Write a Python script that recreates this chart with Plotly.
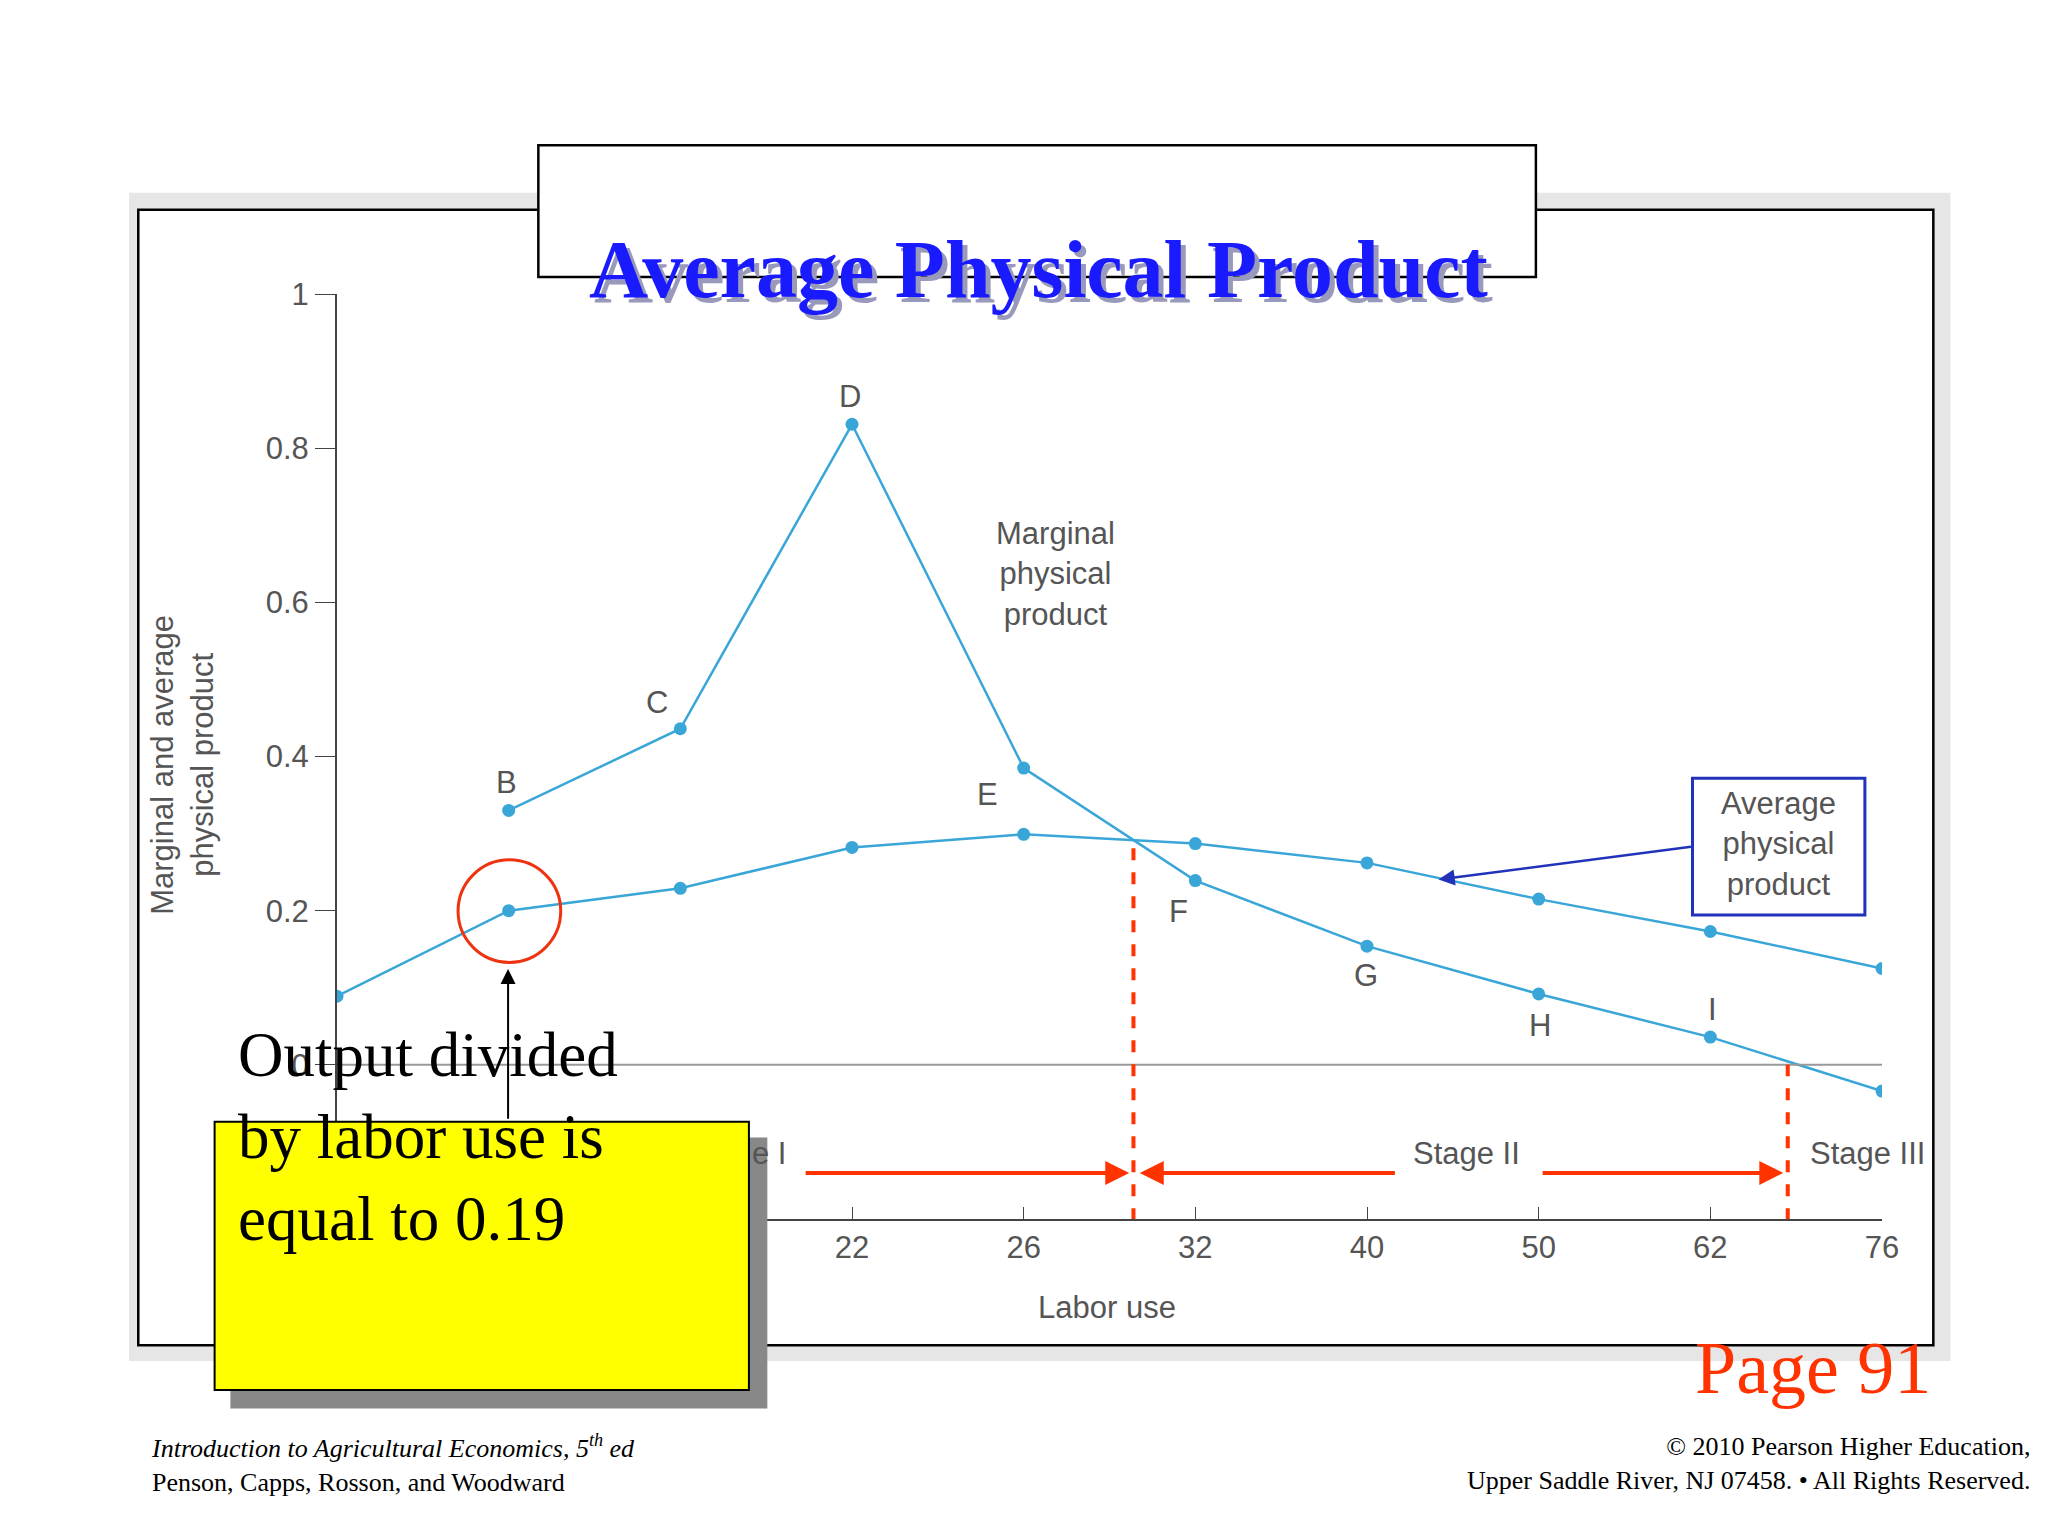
import plotly.graph_objects as go

labor = ["0", "10", "16", "22", "26", "32", "40", "50", "62", "76"]
app = [0.089, 0.20, 0.229, 0.282, 0.299, 0.287, 0.262, 0.215, 0.173, 0.125]
mpp = [None, 0.33, 0.436, 0.831, 0.385, 0.239, 0.154, 0.092, 0.036, -0.034]
point_letters = ["B", "C", "D", "E", "F", "G", "H", "I", "J"]

W, H = 2048, 1536
S = W / 1556.0
L, R, T, B = 250 * S, W - 1424 * S, 217 * S, H - 920 * S
PW, PH = W - L - R, H - T - B

def px(x):
    return (x * S - L) / PW

def py(y):
    return 1 - (y * S - T) / PH

def dx(x):
    return (x - 250) / 130.4

def dy(y):
    return (802 - y) / 585.0

idx = list(range(len(labor)))
blue = "#3aa6d8"
fig = go.Figure()
fig.add_trace(go.Scatter(x=idx, y=app, mode="lines+markers", line=dict(color=blue, width=2.5),
                         marker=dict(size=13, color=blue)))
fig.add_trace(go.Scatter(x=idx[1:], y=mpp[1:], mode="lines+markers", line=dict(color=blue, width=2.5),
                         marker=dict(size=13, color=blue)))

shapes = []
shapes.append(dict(type="rect", xref="paper", yref="paper", x0=px(92), x1=px(1476), y0=py(1028), y1=py(140),
                   fillcolor="#e6e6e6", line=dict(width=0), layer="below"))
shapes.append(dict(type="rect", xref="paper", yref="paper", x0=px(99), x1=px(1463), y0=py(1016), y1=py(153),
                   fillcolor="white", line=dict(color="black", width=2.5), layer="below"))
shapes.append(dict(type="line", x0=0, x1=9, y0=0, y1=0, line=dict(color="#999", width=2)))
shapes.append(dict(type="line", x0=dx(855), x1=dx(855), y0=dy(920), y1=dy(632),
                   line=dict(color="#ff3300", width=4, dash="dash")))
shapes.append(dict(type="line", x0=dx(1352), x1=dx(1352), y0=dy(920), y1=0,
                   line=dict(color="#ff3300", width=4, dash="dash")))
shapes.append(dict(type="circle", xref="paper", yref="paper", x0=px(342), x1=px(420), y0=py(725), y1=py(647),
                   line=dict(color="#ee3311", width=3)))
shapes.append(dict(type="rect", xref="paper", yref="paper", x0=px(403), x1=px(1161), y0=py(204), y1=py(104),
                   fillcolor="white", line=dict(color="black", width=2.5)))
shapes.append(dict(type="rect", xref="paper", yref="paper", x0=px(1280), x1=px(1411), y0=py(689), y1=py(585),
                   fillcolor="white", line=dict(color="#2233bb", width=3)))
shapes.append(dict(type="rect", xref="paper", yref="paper", x0=px(169), x1=px(577), y0=py(1064), y1=py(858),
                   fillcolor="#888", line=dict(width=0)))
shapes.append(dict(type="rect", xref="paper", yref="paper", x0=px(157), x1=px(563), y0=py(1050), y1=py(846),
                   fillcolor="#ffff00", line=dict(color="black", width=2)))

ann = []
def arrow(x0, y0, x1, y1, color, width=4, size=1.2):
    ann.append(dict(xref="x domain", yref="y domain", axref="x domain", ayref="y domain",
                    x=px(x1), y=py(y1), ax=px(x0), ay=py(y0), text="", showarrow=True,
                    arrowhead=2, arrowsize=size, arrowwidth=width, arrowcolor=color))

arrow(605, 885, 852, 885, "#ff3300")
arrow(1055, 885, 860, 885, "#ff3300")
arrow(1165, 885, 1349, 885, "#ff3300")
arrow(380, 845, 380, 730, "black", 2, 1.5)
arrow(1280, 637, 1087, 662, "#2233bb", 2.5, 1.3)

gray = "#555"
letter_pos = [(379, 588), (493, 527), (640, 295), (744, 597), (889, 686), (1032, 734), (1164, 772), (1295, 760), (1432, 848)]
for t, (x, y) in zip(point_letters, letter_pos):
    ann.append(dict(x=dx(x), y=dy(y), text=t, showarrow=False, font=dict(size=31, color=gray, family="Liberation Sans")))

def ptext(x, y, text, size, color, family="Liberation Sans", xanchor="center", **kw):
    ann.append(dict(xref="paper", yref="paper", x=px(x), y=py(y), text=text, showarrow=False, xanchor=xanchor,
                    font=dict(size=size, color=color, family=family), **kw))

ptext(796, 384, "Marginal<br>physical<br>product", 31, gray, align="center")
ptext(1345, 635, "Average<br>physical<br>product", 31, gray, align="center")
ptext(1108, 885, "Stage II", 31, gray)
ptext(1413, 885, "Stage III", 31, gray)
ptext(578, 885, "e I", 31, gray)
ptext(835, 1002, "Labor use", 31, gray)
ptext(132, 575, "Marginal and average<br>physical product", 31, gray, textangle=-90)
ptext(787, 166, "<b>Average Physical Product</b>", 82, "#9999bb", "Liberation Serif")
ptext(783, 162, "<b>Average Physical Product</b>", 82, "#1a1aff", "Liberation Serif")
ptext(173, 948, "Output divided<br>by labor use is<br>equal to 0.19", 63, "black", "Liberation Serif", xanchor="left", align="left")
ptext(1463, 1066, "Page 91", 74, "#ff3300", "Liberation Serif", xanchor="right")
ptext(107, 1133, "<i>Introduction to Agricultural Economics, 5<sup>th</sup> ed</i><br>Penson, Capps, Rosson, and Woodward",
      26, "black", "Liberation Serif", xanchor="left", align="left")
ptext(1538, 1131, "© 2010 Pearson Higher Education,<br>Upper Saddle River, NJ 07458. • All Rights Reserved.",
      26, "black", "Liberation Serif", xanchor="right", align="right")

fig.update_layout(
    width=W, height=H, margin=dict(l=L, r=R, t=T, b=B), showlegend=False,
    paper_bgcolor="white", plot_bgcolor="rgba(0,0,0,0)",
    shapes=shapes, annotations=ann,
    xaxis=dict(range=[0, 9], tickvals=idx, ticktext=labor, showgrid=False, zeroline=False,
               showline=True, linecolor="#444", linewidth=2, ticks="inside", ticklen=12, tickcolor="#444",
               tickfont=dict(size=31, color=gray, family="Liberation Sans")),
    yaxis=dict(range=[-0.2, 1], tickvals=[0, 0.2, 0.4, 0.6, 0.8, 1], ticktext=["0", "0.2", "0.4", "0.6", "0.8", "1"],
               showgrid=False, zeroline=False, showline=True, linecolor="#444", linewidth=2,
               ticks="outside", ticklen=20, tickcolor="#444",
               tickfont=dict(size=31, color=gray, family="Liberation Sans")),
)
fig.write_html("out.html")
